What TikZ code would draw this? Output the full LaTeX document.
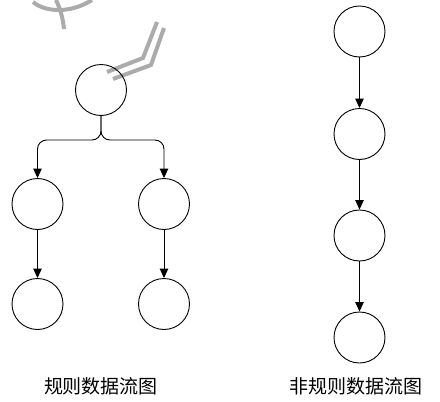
\documentclass[tikz,border=0pt]{standalone}
\usepackage{fontspec}
\newfontfamily\cjk{Noto Sans CJK SC}
\usetikzlibrary{arrows.meta}
\begin{document}
\begin{tikzpicture}[x=1pt,y=-1pt,
  proc/.style={draw=black,line width=0.9pt,circle,minimum size=51pt,inner sep=0pt},
  flow/.style={draw=black,line width=0.9pt,-{Triangle[length=9.5pt,width=8.5pt]}},
  caption/.style={font=\cjk\fontsize{19}{21}\selectfont,inner sep=0pt},
  mark stroke/.style={draw=black!33,line width=4pt}]
\useasboundingbox[fill=white] (0,0) rectangle (440,402);

% grey pen strokes at the top
\draw[mark stroke] (33,2) .. controls (45,12) and (70,14) .. (92,0);
\draw[mark stroke] (56,0) .. controls (60,8) and (63,18) .. (64,29);
\draw[mark stroke] (107,72) -- (143,58) -- (157,22);
\draw[mark stroke] (113,79) -- (151,65) -- (164,28);

% regular data flow: one source, two branches
\node[proc] (r0) at (101,90) {};
\node[proc] (r1) at (37.5,204) {};
\node[proc] (r2) at (164,204) {};
\node[proc] (r3) at (37.5,304) {};
\node[proc] (r4) at (164,304) {};
\coordinate (rsplit) at (101,140);
\draw[flow,rounded corners=9pt] (r0.south) -- (rsplit) -| (r1.north);
\draw[flow,rounded corners=9pt] (r0.south) -- (rsplit) -| (r2.north);
\draw[flow] (r1) -- (r3);
\draw[flow] (r2) -- (r4);
\node[caption] (rcap) at (101,386.5) {规则数据流图};

% irregular data flow: a single chain
\node[proc] (c0) at (359.5,31.5) {};
\node[proc] (c1) at (359.5,134) {};
\node[proc] (c2) at (359.5,235.5) {};
\node[proc] (c3) at (359.5,337.5) {};
\draw[flow] (c0) -- (c1);
\draw[flow] (c1) -- (c2);
\draw[flow] (c2) -- (c3);
\node[caption] (ccap) at (356,386.5) {非规则数据流图};
\end{tikzpicture}
\end{document}
